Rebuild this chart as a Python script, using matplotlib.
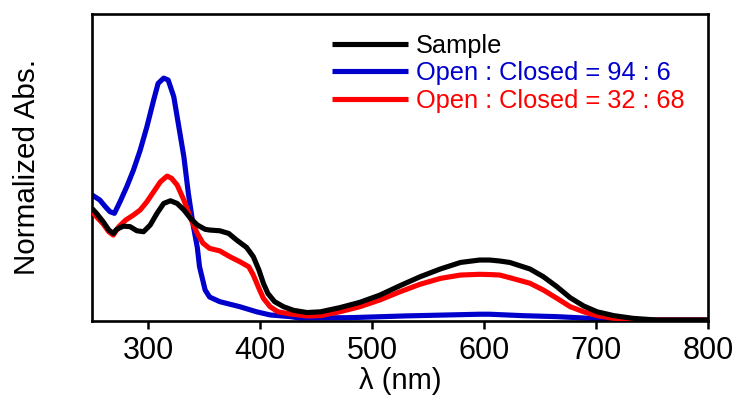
import numpy as np
import matplotlib
matplotlib.use("Agg")
import matplotlib.pyplot as plt

plt.rcParams['font.family'] = ['Liberation Sans', 'DejaVu Sans']

# spectra (normalized so blue peak = 1)
wl_sample = [250, 254, 260, 265, 269, 272, 278, 284, 290, 296, 302, 308, 314, 320, 326,
             332, 338, 344, 351, 355, 364, 372, 379, 388, 394, 399, 403, 407, 413, 421,
             430, 442, 454, 471, 489, 507, 525, 543, 561, 579, 596, 605, 614, 623, 641,
             653, 665, 677, 689, 701, 716, 733, 754, 800]
abs_sample = [0.461, 0.441, 0.406, 0.372, 0.358, 0.375, 0.388, 0.386, 0.369, 0.365, 0.393,
              0.441, 0.482, 0.493, 0.482, 0.455, 0.420, 0.393, 0.375, 0.372, 0.369, 0.358,
              0.331, 0.300, 0.262, 0.207, 0.152, 0.110, 0.076, 0.055, 0.040, 0.031, 0.034,
              0.051, 0.073, 0.103, 0.142, 0.179, 0.211, 0.238, 0.248, 0.248, 0.244, 0.238,
              0.211, 0.179, 0.138, 0.092, 0.058, 0.034, 0.018, 0.007, 0.0, 0.0]

wl_94 = [250, 257, 262, 266, 270, 275, 281, 287, 293, 299, 305, 309, 314, 318, 323, 327,
         332, 336, 340, 344, 346, 351, 355, 364, 382, 397, 409, 427, 436, 482, 530, 596,
         605, 635, 665, 695, 725, 800]
abs_94 = [0.517, 0.496, 0.468, 0.448, 0.441, 0.489, 0.551, 0.620, 0.702, 0.799, 0.909,
          0.978, 1.0, 0.992, 0.923, 0.813, 0.675, 0.524, 0.400, 0.300, 0.220, 0.124, 0.095,
          0.076, 0.055, 0.034, 0.021, 0.014, 0.008, 0.010, 0.017, 0.024, 0.024, 0.018,
          0.014, 0.007, 0.0, 0.0]

wl_32 = [250, 254, 260, 265, 269, 274, 280, 287, 293, 299, 305, 311, 317, 321, 326, 332,
         338, 344, 349, 355, 364, 373, 382, 390, 394, 399, 403, 409, 416, 427, 442, 454,
         471, 489, 507, 525, 543, 561, 579, 596, 605, 614, 623, 641, 653, 665, 677, 689,
         701, 716, 739, 800]
abs_32 = [0.448, 0.427, 0.397, 0.365, 0.351, 0.386, 0.413, 0.434, 0.455, 0.489, 0.530,
          0.571, 0.595, 0.586, 0.558, 0.496, 0.420, 0.358, 0.318, 0.296, 0.286, 0.262,
          0.241, 0.220, 0.186, 0.131, 0.090, 0.055, 0.034, 0.025, 0.017, 0.018, 0.034,
          0.055, 0.083, 0.117, 0.148, 0.172, 0.186, 0.189, 0.188, 0.186, 0.175, 0.152,
          0.124, 0.090, 0.055, 0.034, 0.018, 0.007, 0.0, 0.0]

labels = ["Sample", "Open : Closed = 94 : 6", "Open : Closed = 32 : 68"]
colors = ["black", "#0000CC", "#FF0000"]
xticks = [300, 400, 500, 600, 700, 800]

fig = plt.figure(figsize=(7.35, 4.01), dpi=100)
ax = fig.add_axes([0.1252, 0.1995, 0.9633 - 0.1252, 0.9663 - 0.1995])

lw = 3.7
ax.plot(wl_94, abs_94, color=colors[1], lw=lw, label=labels[1],
        solid_joinstyle='round', solid_capstyle='butt', zorder=2)
ax.plot(wl_32, abs_32, color=colors[2], lw=lw, label=labels[2],
        solid_joinstyle='round', solid_capstyle='butt', zorder=3)
ax.plot(wl_sample, abs_sample, color=colors[0], lw=lw, label=labels[0],
        solid_joinstyle='round', solid_capstyle='butt', zorder=4)

ax.set_xlim(250, 800)
ax.set_ylim(-0.004, 1.267)
ax.set_xticks(xticks)
ax.set_yticks([])
ax.tick_params(axis='x', direction='out', length=6, width=1.8, labelsize=22, pad=5)
for s in ax.spines.values():
    s.set_linewidth(1.9)

ax.set_xlabel("λ (nm)", fontsize=21)
ax.xaxis.set_label_coords(0.5, -0.150)
ax.set_ylabel("Normalized Abs.", fontsize=21.3)
ax.yaxis.set_label_coords(-0.083, 0.5)

handles, labs = ax.get_legend_handles_labels()
order = [2, 0, 1]
leg = ax.legend([handles[i] for i in order], [labs[i] for i in order],
                loc='upper left', bbox_to_anchor=(0.3896, 0.935), frameon=False,
                fontsize=18.3, handlelength=2.99, handletextpad=0.31, labelspacing=0.14,
                borderaxespad=0, borderpad=0)
for txt, i in zip(leg.get_texts(), order):
    txt.set_color(handles[i].get_color())

fig.savefig("out.png", dpi=100)
